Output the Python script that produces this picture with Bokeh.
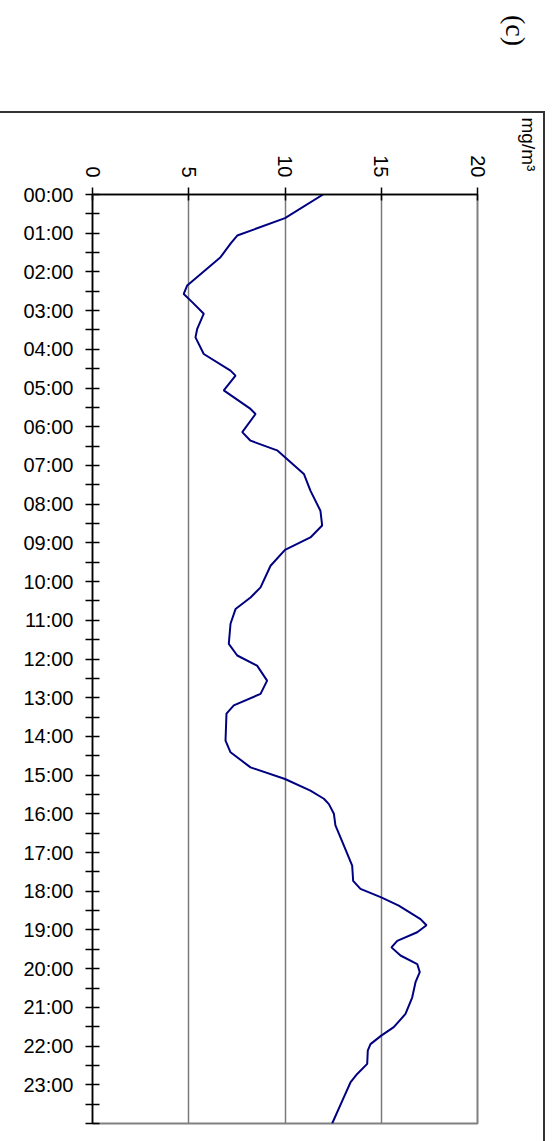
import math
from bokeh.plotting import figure
from bokeh.models import Range1d, FixedTicker, Label, InlineStyleSheet
from bokeh.embed import file_html
from bokeh.resources import INLINE

# ---- data (hour of day, concentration mg/m3) ----
hours = [0.00, 0.61, 1.06, 1.27, 1.62, 2.35, 2.57, 2.78, 3.08, 3.47, 3.69, 4.12,
         4.55, 4.68, 5.06, 5.54, 5.67, 6.14, 6.36, 6.61, 6.79, 7.22, 7.65, 8.17,
         8.55, 8.86, 9.18, 9.59, 10.15, 10.41, 10.71, 11.09, 11.61, 11.91, 12.17,
         12.56, 12.90, 13.20, 13.41, 14.11, 14.41, 14.80, 15.10, 15.40, 15.61,
         15.75, 16.00, 16.30, 16.82, 17.34, 17.73, 17.94, 18.16, 18.37, 18.72,
         18.88, 19.06, 19.28, 19.45, 19.66, 19.88, 20.09, 20.35, 20.74, 21.17,
         21.51, 21.73, 21.95, 22.12, 22.46, 22.72, 22.94, 23.32, 24.00]
conc = [11.98, 10.0, 7.52, 7.17, 6.65, 4.92, 4.74, 5.18, 5.78, 5.44, 5.35, 5.78,
        7.17, 7.43, 6.82, 8.21, 8.47, 7.78, 8.21, 9.59, 10.0, 10.98, 11.32, 11.84,
        11.93, 11.32, 10.0, 9.25, 8.73, 8.21, 7.43, 7.17, 7.08, 7.52, 8.55,
        9.07, 8.73, 7.34, 6.96, 6.91, 7.17, 8.21, 10.0, 11.32, 12.02,
        12.28, 12.54, 12.62, 13.06, 13.49, 13.54, 13.92, 15.0, 15.91, 17.04,
        17.35, 16.87, 15.83, 15.53, 16.0, 16.87, 17.0, 16.78, 16.61, 16.26,
        15.65, 15.0, 14.44, 14.30, 14.27, 13.75, 13.40, 13.06, 12.45]

value_ticks = [0, 5, 10, 15, 20]
hour_ticks = list(range(25))
hour_labels = [f"{h:02d}:00" for h in range(24)] + [""]
half_hour_ticks = [h + 0.5 for h in range(24)]
unit_label = "mg/m³"
panel_label = "(c)"

FONT = "Liberation Sans"

# outer frame of the figure panel (top and right edges visible)
frame_css = InlineStyleSheet(css="""
:host { position: relative; }
:host::after {
  content: "";
  position: absolute;
  left: -20px; top: 111px;
  width: 565px; height: 1030px;
  box-sizing: border-box;
  border-top: 2px solid #333333;
  border-right: 2px solid #333333;
  pointer-events: none;
}
""")

p = figure(frame_width=385, frame_height=929,
           x_range=Range1d(0, 20), y_range=Range1d(24, 0),
           x_axis_location="above",
           output_backend="svg", toolbar_location=None,
           min_border_left=92, min_border_right=75,
           min_border_top=194, min_border_bottom=18)
p.stylesheets = [frame_css]

p.background_fill_color = "white"
p.border_fill_color = "white"
p.outline_line_color = "#808080"
p.outline_line_width = 2

# top (value) axis
xa = p.xaxis[0]
xa.ticker = FixedTicker(ticks=value_ticks)
xa.major_label_orientation = -math.pi / 2
xa.major_label_text_font = FONT
xa.major_label_text_font_size = "20px"
xa.major_label_text_color = "black"
xa.major_label_standoff = 10
xa.major_tick_out = 7
xa.major_tick_in = 6
xa.minor_tick_out = 0
xa.minor_tick_in = 0
xa.axis_line_color = "black"
xa.axis_line_width = 1.5
xa.major_tick_line_color = "black"
xa.major_tick_line_width = 1.5

# left (time) axis
ya = p.yaxis[0]
ya.ticker = FixedTicker(ticks=hour_ticks, minor_ticks=half_hour_ticks)
ya.major_label_overrides = {h: lab for h, lab in zip(hour_ticks, hour_labels)}
ya.major_label_text_font = FONT
ya.major_label_text_font_size = "20px"
ya.major_label_text_color = "black"
ya.major_label_standoff = 12
ya.major_tick_out = 7
ya.major_tick_in = 7
ya.minor_tick_out = 7
ya.minor_tick_in = 7
ya.axis_line_color = "black"
ya.axis_line_width = 1.5
ya.major_tick_line_color = "black"
ya.major_tick_line_width = 1.5
ya.minor_tick_line_color = "black"
ya.minor_tick_line_width = 1.5

p.xgrid.ticker = FixedTicker(ticks=value_ticks)
p.xgrid.grid_line_color = "#7a7a7a"
p.xgrid.grid_line_width = 1.5
p.ygrid.visible = False

p.line(x=conc, y=hours, line_color="#000080", line_width=2)

p.add_layout(Label(x=528, y=117, text=unit_label, angle=-math.pi / 2,
                   x_units="canvas", y_units="canvas",
                   text_align="left", text_baseline="middle",
                   text_font=FONT, text_font_size="19px", text_color="black"),
             "right")
p.add_layout(Label(x=515, y=30, text=panel_label, angle=-math.pi / 2,
                   x_units="canvas", y_units="canvas",
                   text_align="center", text_baseline="middle",
                   text_font="Liberation Serif", text_font_size="28px",
                   text_color="black"),
             "right")

open("out.html", "w").write(file_html(p, INLINE))
